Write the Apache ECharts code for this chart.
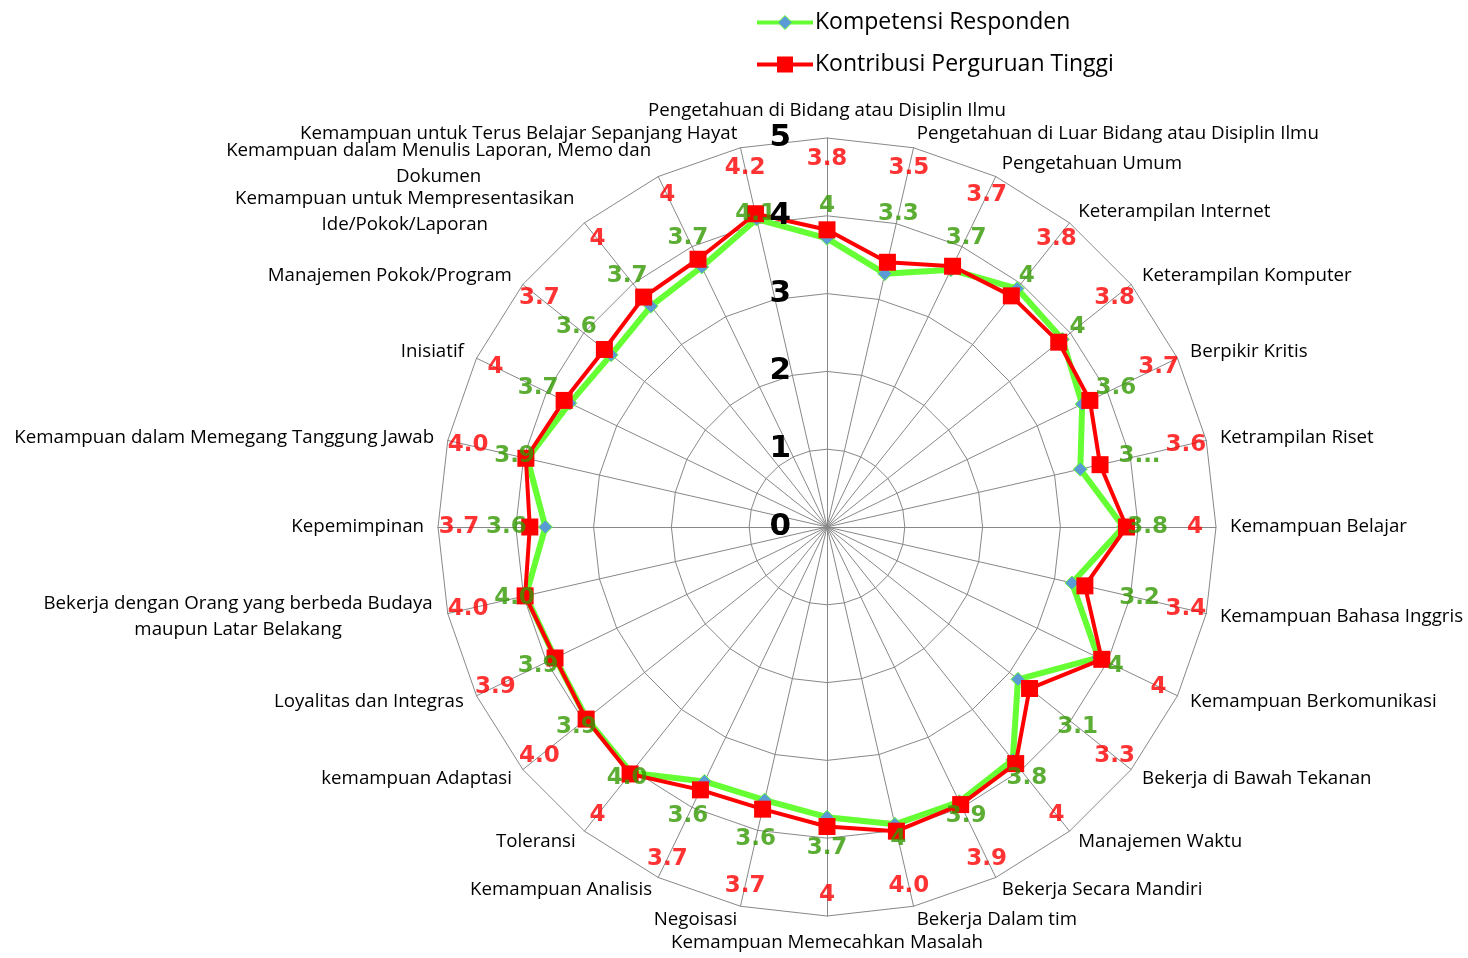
<!DOCTYPE html>
<html>
<head>
<meta charset="utf-8">
<script src="https://cdn.jsdelivr.net/npm/echarts@6/dist/echarts.min.js"></script>
<style>
html, body { margin: 0; padding: 0; background: #fff; }
#chart { width: 1468px; height: 958px; }
</style>
</head>
<body>
<div id="chart"></div>
<script>
// ========== 数据 (urut searah jarum jam dari atas) ==========
const indicatorNames = [
    'Pengetahuan di Bidang atau Disiplin Ilmu',
    'Pengetahuan di Luar Bidang atau Disiplin Ilmu',
    'Pengetahuan Umum',
    'Keterampilan Internet',
    'Keterampilan Komputer',
    'Berpikir Kritis',
    'Ketrampilan Riset',
    'Kemampuan Belajar',
    'Kemampuan Bahasa Inggris',
    'Kemampuan Berkomunikasi',
    'Bekerja di Bawah Tekanan',
    'Manajemen Waktu',
    'Bekerja Secara Mandiri',
    'Bekerja Dalam tim',
    'Kemampuan Memecahkan Masalah',
    'Negoisasi',
    'Kemampuan Analisis',
    'Toleransi',
    'kemampuan Adaptasi',
    'Loyalitas dan Integras',
    'Bekerja dengan Orang yang berbeda Budaya\nmaupun Latar Belakang',
    'Kepemimpinan',
    'Kemampuan dalam Memegang Tanggung Jawab',
    'Inisiatif',
    'Manajemen Pokok/Program',
    'Kemampuan untuk Mempresentasikan\nIde/Pokok/Laporan',
    'Kemampuan dalam Menulis Laporan, Memo dan\nDokumen',
    'Kemampuan untuk Terus Belajar Sepanjang Hayat'
];

const kompetensi = [3.71, 3.34, 3.67, 3.92, 3.87, 3.64, 3.34, 3.81, 3.23, 3.87,
                    3.14, 3.83, 3.92, 3.92, 3.73, 3.60, 3.63, 4.04, 3.95, 3.88,
                    3.97, 3.62, 3.95, 3.67, 3.55, 3.63, 3.71, 4.06];
const kontribusi = [3.82, 3.49, 3.72, 3.80, 3.81, 3.75, 3.60, 3.85, 3.40, 3.92,
                    3.33, 3.89, 3.96, 4.01, 3.85, 3.72, 3.75, 4.06, 3.96, 3.88,
                    3.98, 3.82, 3.97, 3.75, 3.66, 3.78, 3.82, 4.13];

const kompetensiLabels = ['4', '3.3', '3.7', '4', '4', '3.6', '3...', '3.8', '3.2', '4',
                          '3.1', '3.8', '3.9', '4', '3.7', '3.6', '3.6', '4.0', '3.9', '3.9',
                          '4.0', '3.6', '3.9', '3.7', '3.6', '3.7', '3.7', '4.1'];
const kontribusiLabels = ['3.8', '3.5', '3.7', '3.8', '3.8', '3.7', '3.6', '4', '3.4', '4',
                          '3.3', '4', '3.9', '4.0', '4', '3.7', '3.7', '4', '4.0', '3.9',
                          '4.0', '3.7', '4.0', '4', '3.7', '4', '4', '4.2'];

const tickLabels = ['0', '1', '2', '3', '4', '5'];
const seriesNames = ['Kompetensi Responden', 'Kontribusi Perguruan Tinggi'];

// ========== 布局 ==========
const CENTER = [827, 527];
const RADIUS = 389;
const FONT = '"Open Sans", sans-serif';
const BOLD_FONT = '"DejaVu Sans", sans-serif';
const NAME_SIZE = 18.7;
const GREEN_LINE = '#66ff33';
const GREEN_TEXT = '#339900';
const RED = '#ff0000';
const LABEL_R_K = 4.12;   // jarak label hijau
const LABEL_R_T = 4.73;   // jarak label merah

// radar ECharts berlawanan arah jarum jam -> susun ulang
const n = indicatorNames.length;
const order = [0].concat(Array.from({ length: n - 1 }, (_, k) => n - 1 - k));

// nama dua baris: baris ditengahkan seperti di Excel
const measure = document.createElement('canvas').getContext('2d');
measure.font = NAME_SIZE + 'px ' + FONT;
const nameRich = {};
indicatorNames.forEach((nm, i) => {
    const lines = nm.split('\n');
    if (lines.length > 1) {
        const w = Math.max(...lines.map(l => measure.measureText(l).width));
        nameRich['m' + i] = {
            width: Math.ceil(w) + 2, align: 'center', color: '#000',
            fontSize: NAME_SIZE, fontFamily: FONT, lineHeight: 26
        };
    }
});
const nameFormatter = (name) => {
    const i = indicatorNames.indexOf(name);
    if (!nameRich['m' + i]) return name;
    return name.split('\n').map(l => '{m' + i + '|' + l + '}').join('\n');
};

const svgIcon = (inner) => 'image://data:image/svg+xml;utf8,' + encodeURIComponent(
    "<svg xmlns='http://www.w3.org/2000/svg' width='56' height='18'>" +
    inner + '</svg>');
const iconK = svgIcon("<line x1='0' y1='9' x2='56' y2='9' stroke='" + GREEN_LINE + "' stroke-width='4'/>" +
    "<polygon points='28,2 35,9 28,16 21,9' fill='#5b9bd5' stroke='" + GREEN_LINE + "' stroke-width='1'/>");
const iconT = svgIcon("<line x1='0' y1='9' x2='56' y2='9' stroke='" + RED + "' stroke-width='4'/>" +
    "<rect x='20' y='1' width='16' height='16' fill='" + RED + "'/>");

const chart = echarts.init(document.getElementById('chart'));

const labelOpt = (color, texts) => ({
    show: true, position: 'inside', color: color, fontSize: 23,
    fontWeight: 'bold', fontFamily: BOLD_FONT,
    formatter: p => texts[p.dataIndex]
});

chart.setOption({
    backgroundColor: '#fff',
    animation: false,
    textStyle: { fontFamily: FONT },
    legend: {
        orient: 'vertical',
        left: 752,
        top: 6,
        itemWidth: 56,
        itemHeight: 18,
        itemGap: 19,
        textStyle: { fontSize: 23, color: '#000', fontFamily: FONT, padding: [0, 0, 0, -3] },
        data: [
            { name: seriesNames[0], icon: iconK },
            { name: seriesNames[1], icon: iconT }
        ]
    },
    radar: {
        center: CENTER,
        radius: RADIUS,
        startAngle: 90,
        shape: 'polygon',
        splitNumber: 5,
        axisNameGap: 14,
        axisName: {
            color: '#000', fontSize: NAME_SIZE, fontFamily: FONT, lineHeight: 26,
            formatter: nameFormatter, rich: nameRich
        },
        axisLine: { lineStyle: { color: '#888', width: 1 } },
        splitLine: { lineStyle: { color: '#888', width: 1 } },
        splitArea: { show: false },
        indicator: order.map(i => ({ name: indicatorNames[i], min: 0, max: 5 }))
    },
    polar: { center: CENTER, radius: RADIUS },
    angleAxis: {
        type: 'value', min: 0, max: n, startAngle: 90, clockwise: true,
        axisLine: { show: false }, axisTick: { show: false },
        axisLabel: { show: false }, splitLine: { show: false }
    },
    radiusAxis: {
        type: 'value', min: 0, max: 5, interval: 1,
        axisLine: { show: false }, axisTick: { show: false }, splitLine: { show: false },
        axisLabel: {
            show: true, margin: 36, color: '#000', fontSize: 31, fontWeight: 'bold',
            fontFamily: BOLD_FONT, verticalAlign: 'middle', formatter: v => tickLabels[v]
        },
        z: 10
    },
    series: [
        {
            type: 'radar',
            name: seriesNames[0],
            symbol: 'diamond',
            symbolSize: 14,
            lineStyle: { color: GREEN_LINE, width: 6 },
            itemStyle: { color: '#5b9bd5', borderColor: GREEN_LINE, borderWidth: 1 },
            data: [{ name: seriesNames[0], value: order.map(i => kompetensi[i]) }],
            z: 2
        },
        {
            type: 'radar',
            name: seriesNames[1],
            symbol: 'rect',
            symbolSize: 17,
            lineStyle: { color: RED, width: 4 },
            itemStyle: { color: RED },
            data: [{ name: seriesNames[1], value: order.map(i => kontribusi[i]) }],
            z: 3
        },
        {
            type: 'scatter',
            coordinateSystem: 'polar',
            symbolSize: 1,
            itemStyle: { color: 'transparent' },
            silent: true,
            label: labelOpt(GREEN_TEXT, kompetensiLabels),
            data: kompetensi.map((v, i) => [LABEL_R_K, i]),
            z: 6
        },
        {
            type: 'scatter',
            coordinateSystem: 'polar',
            symbolSize: 1,
            itemStyle: { color: 'transparent' },
            silent: true,
            label: labelOpt(RED, kontribusiLabels),
            data: kontribusi.map((v, i) => [LABEL_R_T, i]),
            z: 6
        }
    ]
});
</script>
</body>
</html>
